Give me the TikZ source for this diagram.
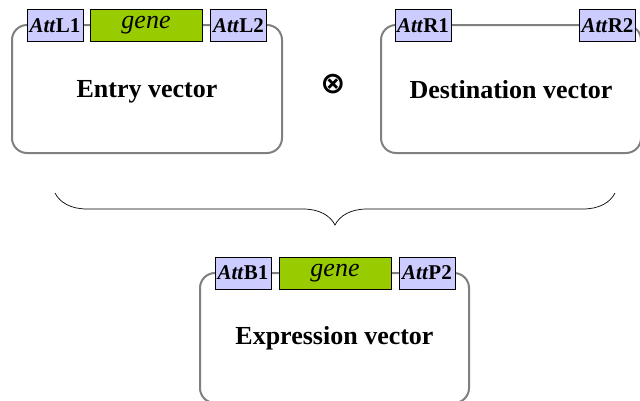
\documentclass[tikz,border=0pt]{standalone}
\usepackage{fontspec}
\setmainfont{Liberation Serif}[
  UprightFont={Liberation Serif},
  BoldFont={Liberation Serif Bold},
  ItalicFont={Liberation Serif Italic},
  BoldItalicFont={Liberation Serif Bold Italic}]
\newfontfamily\symfont{DejaVu Sans}
\usetikzlibrary{decorations.pathreplacing}
\begin{document}
\begin{tikzpicture}[x=1pt,y=-1pt,
  vecbox/.style={draw=black!50, line width=2pt, rounded corners=15pt, rectangle, inner sep=0pt,
     font=\fontsize{26}{30}\selectfont\bfseries},
  attbox/.style={draw=black, line width=1pt, fill=blue!20, minimum width=56pt, minimum height=32pt,
     inner sep=0pt, font=\fontsize{21}{24}\selectfont\bfseries},
  genebox/.style={draw=black, line width=1pt, fill={rgb,255:red,153;green,204;blue,0}, minimum width=112pt,
     minimum height=32pt, inner sep=0pt, font=\fontsize{26}{28}\selectfont\itshape},
  opstyle/.style={inner sep=0pt, font=\fontsize{30}{30}\selectfont\symfont\bfseries}
]
\useasboundingbox (0,0) rectangle (640,400);
% vector bodies
\node[vecbox, minimum width=270pt, minimum height=128pt, text depth=-4pt] (entry) at (147,89) {Entry vector};
\node[vecbox, minimum width=260pt, minimum height=128pt, text depth=-4pt] (dest) at (511,89) {Destination vector};
\node[vecbox, minimum width=269pt, minimum height=130pt] (expr) at (334.5,338) {Expression vector};
% entry elements
\node[attbox] (l1) at (55,25.5) {\textit{Att}L1};
\node[genebox] (g1) at (146,25.5) {gene};
\node[attbox] (l2) at (238.5,25.5) {\textit{Att}L2};
% destination elements
\node[attbox] (r1) at (423,25.5) {\textit{Att}R1};
\node[attbox] (r2) at (607.5,25.5) {\textit{Att}R2};
% expression elements
\node[attbox] (b1) at (243,273) {\textit{Att}B1};
\node[genebox] (g2) at (335,273) {gene};
\node[attbox] (p2) at (427,273) {\textit{Att}P2};
% operator
\node[opstyle] (op) at (333,84) {⊗};
% brace
\coordinate (bl) at (55,193);
\coordinate (br) at (615,193);
\draw[line width=0.7pt, decorate, decoration={brace, mirror, amplitude=32pt}] (bl) -- (br);
\end{tikzpicture}
\end{document}
